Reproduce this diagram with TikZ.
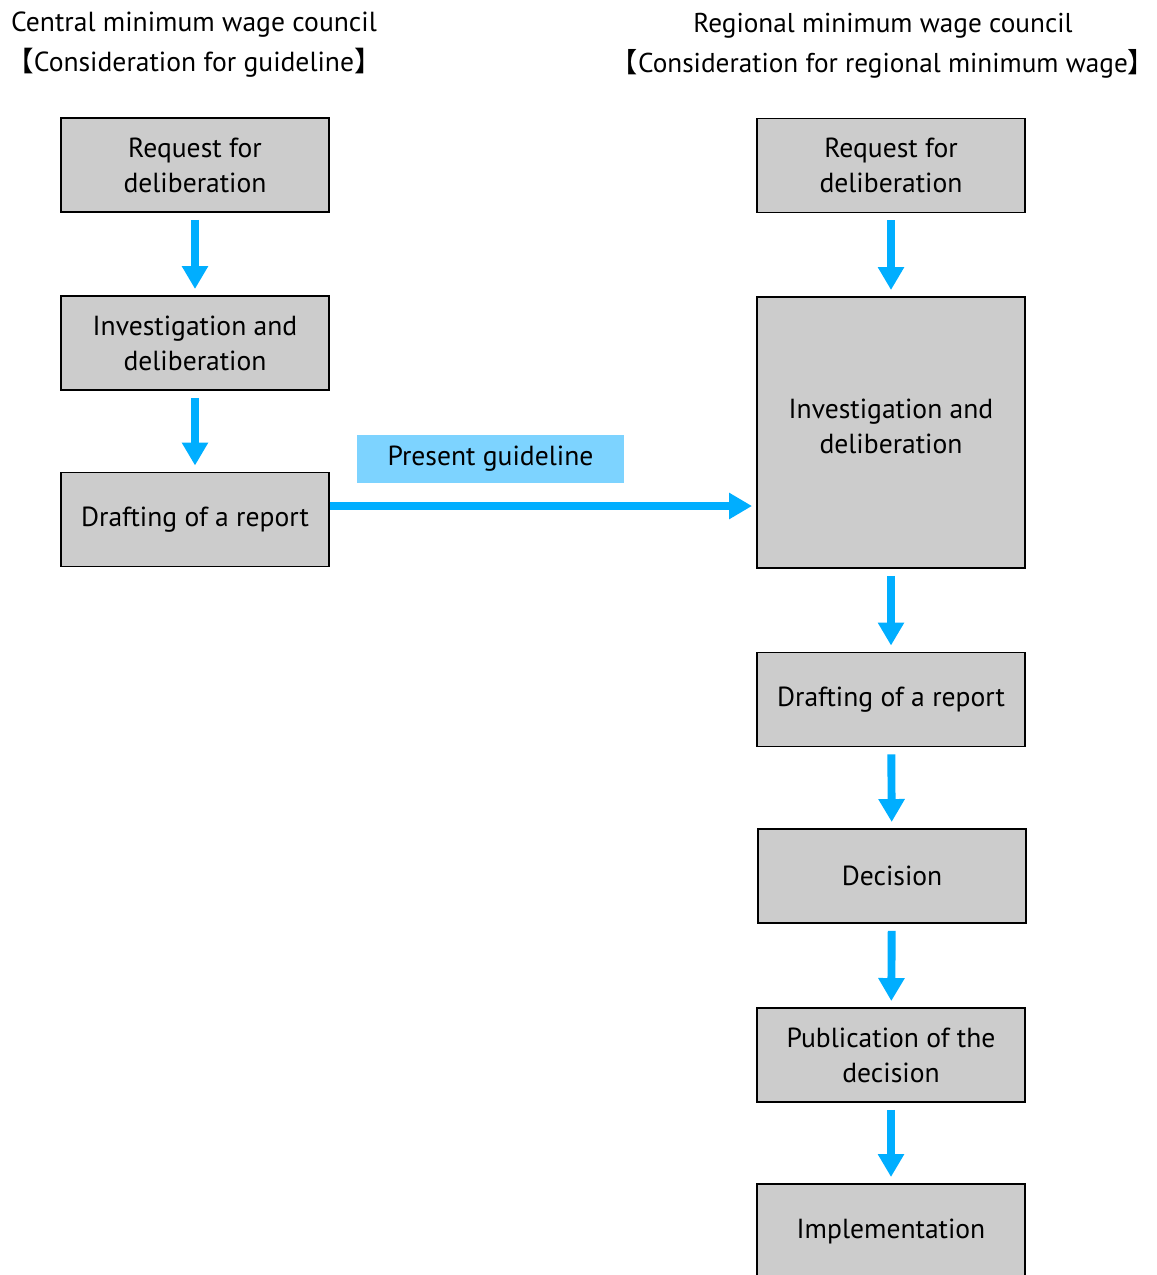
\documentclass[tikz,border=0pt]{standalone}
\usepackage{fontspec}
\setmainfont{PT Sans}
\newfontfamily\cjk{Noto Sans CJK JP}
\definecolor{flowblue}{RGB}{0,174,255}
\definecolor{tagblue}{RGB}{125,211,255}
\definecolor{boxgray}{RGB}{204,204,204}
\usetikzlibrary{arrows.meta,positioning}

\begin{document}
\begin{tikzpicture}[
  stagebox/.style={draw,line width=1.1pt,fill=boxgray,minimum width=5.36cm,minimum height=1.88cm,
    font=\fontsize{15.7}{20}\selectfont,align=center,inner sep=0pt},
  arr/.style={-{Triangle[width=0.5cm,length=0.46cm]},line width=4.5pt,flowblue,
    shorten <=0.14cm,shorten >=0.12cm}
]
  \useasboundingbox (0,0) rectangle (23.12,-25.5);

  % Council headings
  \node[font=\fontsize{15.7}{22.8}\selectfont,align=center] (central) at (3.88,-0.9)
    {Central minimum wage council\\{\cjk 【}Consideration for guideline{\cjk 】}};
  \node[font=\fontsize{15.5}{22.8}\selectfont,align=center] (regional) at (17.66,-0.92)
    {Regional minimum wage council\\{\cjk 【}Consideration for regional minimum wage{\cjk 】}};

  % Central council flow
  \node[stagebox] (req1) at (3.9,-3.3) {Request for\\deliberation};
  \node[stagebox] (inv1) at (3.9,-6.86) {Investigation and\\deliberation};
  \node[stagebox] (draft1) at (3.9,-10.39) {Drafting of a report};

  \draw[arr] (req1) -- (inv1);
  \draw[arr] (inv1) -- (draft1);

  % Regional council flow
  \node[stagebox] (req2) at (17.82,-3.31) {Request for\\deliberation};
  \node[stagebox,minimum height=5.42cm] (inv2) at (17.82,-8.65) {Investigation and\\deliberation\\[-0.46cm]};
  \node[stagebox] (draft2) at (17.82,-13.99) {Drafting of a report};
  \node[stagebox] (dec) at (17.84,-17.52) {Decision};
  \node[stagebox] (pub) at (17.82,-21.1) {Publication of the\\decision};
  \node[stagebox] (impl) at (17.82,-24.62) {Implementation};

  \draw[arr] (req2) -- (inv2);
  \draw[arr] (inv2) -- (draft2);
  \draw[arr] (draft2) -- (dec);
  \draw[arr] (dec) -- (pub);
  \draw[arr] (pub) -- (impl);

  % Guideline handed over
  \node[fill=tagblue,minimum width=5.34cm,minimum height=0.96cm,inner sep=0pt,
    font=\fontsize{15.7}{20}\selectfont] (guide) at (9.81,-9.18) {Present guideline};
  \coordinate (gstart) at ([yshift=0.27cm]draft1.east);
  \draw[arr,shorten <=0pt,shorten >=0.08cm] (gstart) -- (gstart -| inv2.west);
\end{tikzpicture}
\end{document}
